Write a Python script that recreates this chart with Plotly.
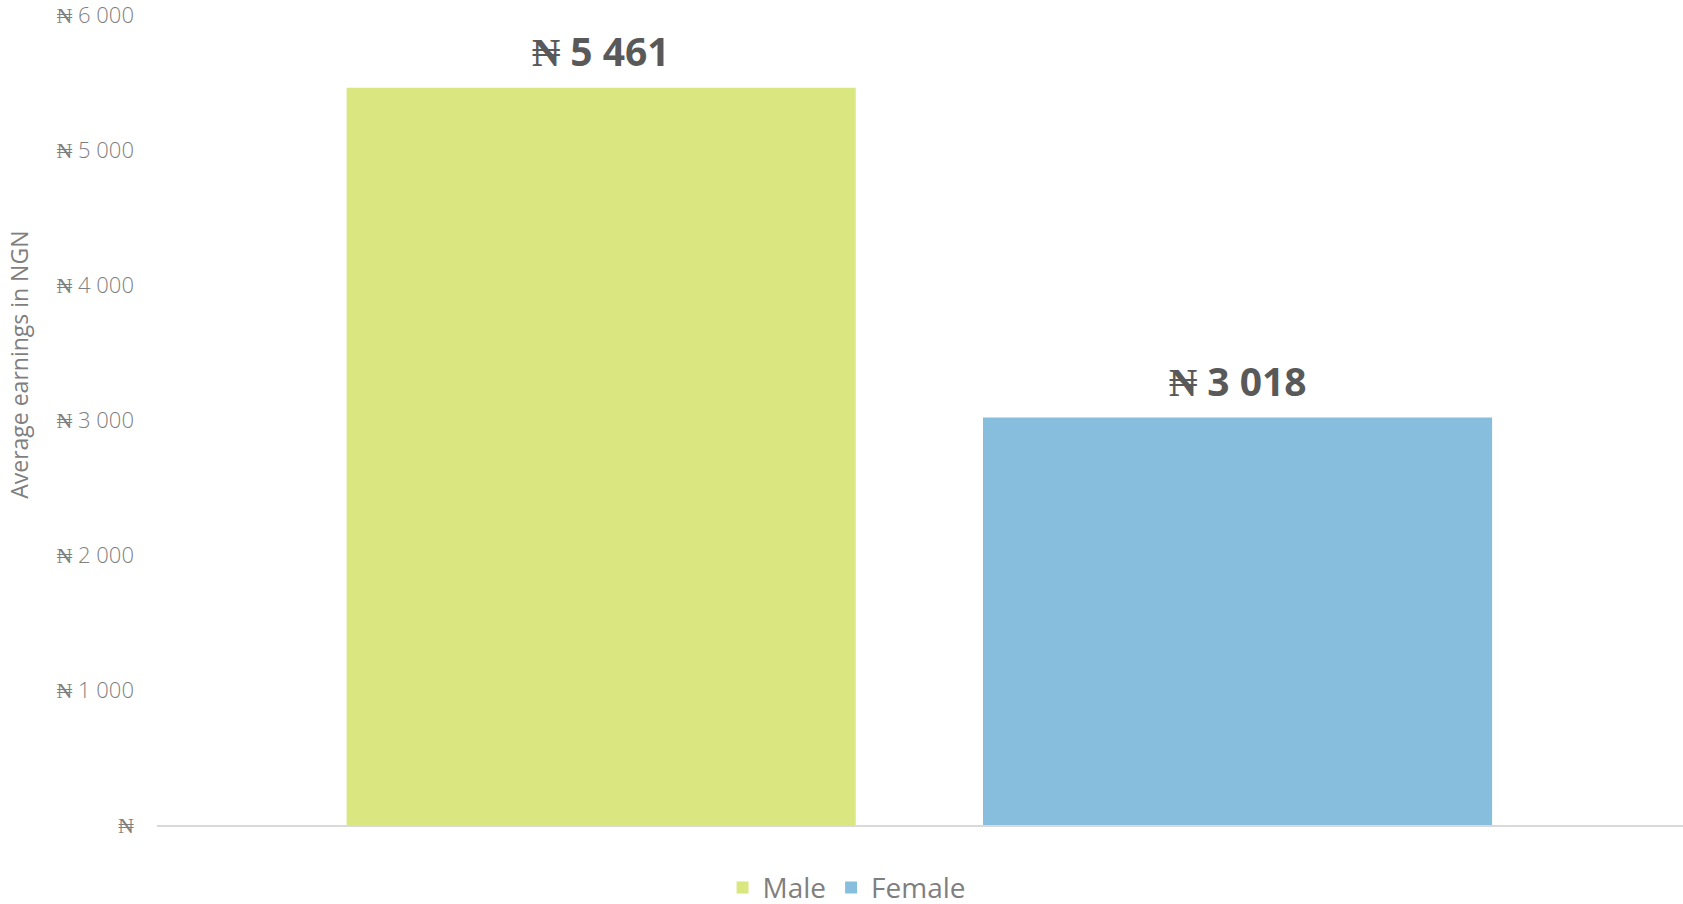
import plotly.graph_objects as go

categories = ["Male", "Female"]
values = [5461, 3018]
colors = ["#DAE680", "#87BDDD"]
tick_vals = [0, 1000, 2000, 3000, 4000, 5000, 6000]
tick_text = ["₦", "₦ 1 000", "₦ 2 000", "₦ 3 000", "₦ 4 000", "₦ 5 000", "₦ 6 000"]
y_title = "Average earnings in NGN"


def fmt(v):
    return "₦ " + f"{v:,}".replace(",", " ")


FONT = "Open Sans"
fig = go.Figure()
for c, v, col in zip(categories, values, colors):
    fig.add_trace(go.Bar(x=[c], y=[v], name=c, marker=dict(color=col, line=dict(width=0)),
                         width=0.8, showlegend=True))
    fig.add_annotation(x=c, y=v, xref="x", yref="y", text=fmt(v), showarrow=False,
                       yanchor="bottom", yshift=9,
                       font=dict(family=FONT, size=39, color="#595959", weight="bold"))

fig.add_annotation(x=-0.0905, y=0.568, xref="paper", yref="paper", text=y_title,
                   textangle=-90, showarrow=False, xanchor="center", yanchor="middle",
                   font=dict(family=FONT, size=23, color="#7f7f7f"))

fig.update_layout(
    width=1683, height=904,
    margin=dict(l=157, r=0, t=15, b=79, autoexpand=False),
    paper_bgcolor="white", plot_bgcolor="white",
    barmode="overlay",
    font=dict(family=FONT, color="#7f7f7f"),
    legend=dict(orientation="h", x=0.503, xanchor="center", xref="container",
                y=0.018, yanchor="middle", yref="container",
                font=dict(family=FONT, size=28, color="#7f7f7f"),
                itemsizing="constant", traceorder="normal"),
    xaxis=dict(range=[-0.698, 1.70], showticklabels=False, showgrid=False, zeroline=False,
               showline=True, linecolor="#d9d9d9", linewidth=2, ticks="", automargin=False),
    yaxis=dict(range=[0, 6000], tickvals=tick_vals, ticktext=tick_text, showgrid=False,
               zeroline=False, showline=False, ticks="", ticklabelstandoff=22,
               ticklabeloverflow="allow", automargin=False,
               tickfont=dict(family=FONT, size=22, color="#7f7f7f", weight=300)),
)

fig.write_html("out.html", config={"displayModeBar": False},
               post_script="document.body.style.margin='0';document.body.style.overflow='hidden';")
